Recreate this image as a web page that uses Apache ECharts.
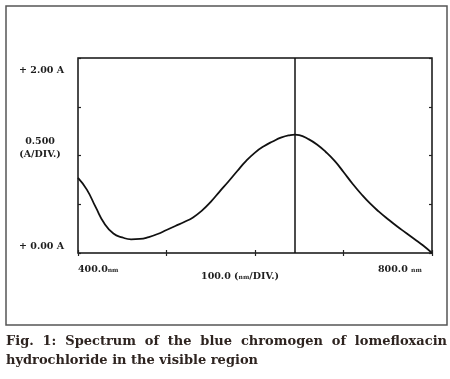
<!DOCTYPE html>
<html>
<head>
<meta charset="utf-8">
<script src="https://cdn.jsdelivr.net/npm/echarts@6/dist/echarts.min.js"></script>
<style>
html,body{margin:0;padding:0;background:#fff;}
#chart{width:450px;height:379px;}
</style>
</head>
<body>
<div id="chart"></div>
<script>
// Wavelength (nm) and absorbance (A)
var wavelengths = [400, 410, 420, 430, 440, 450, 460, 470, 480, 490, 500, 510, 520, 530, 540, 550, 560, 570, 580, 590, 600, 610, 620, 630, 640, 645, 650, 660, 670, 680, 690, 700, 710, 720, 730, 740, 750, 760, 770, 780, 790, 800];
var absorbance  = [0.77, 0.65, 0.47, 0.30, 0.20, 0.16, 0.14, 0.144, 0.164, 0.195, 0.236, 0.277, 0.318, 0.365, 0.435, 0.525, 0.63, 0.733, 0.841, 0.944, 1.03, 1.095, 1.144, 1.185, 1.21, 1.215, 1.21, 1.17, 1.113, 1.036, 0.944, 0.831, 0.713, 0.605, 0.508, 0.425, 0.349, 0.277, 0.21, 0.144, 0.077, 0.0];
var peakWavelength = 645;
var xRange = [400, 800];
var xStep = 100;
var yRange = [0, 2.0];
var yStep = 0.5;
var yLabelsLeft = ['+ 2.00 A', '0.500', '(A/DIV.)', '+ 0.00 A'];
var xLabelLeft = '400.0';
var xLabelMidA = '100.0 (';
var xLabelMidB = '/DIV.)';
var xLabelRight = '800.0 ';
var unitNm = 'nm';
var captionLines = [
  'Fig. 1: Spectrum of the blue chromogen of lomefloxacin',
  'hydrochloride in the visible region'
];

var chart = echarts.init(document.getElementById('chart'), null, {renderer: 'canvas'});

var labelFont = 'bold 9.5px "DejaVu Serif", serif';
var labelColor = '#1e1e1e';
var capFont = 'bold 12px "DejaVu Serif", serif';
var capColor = '#2e2420';

var mc = document.createElement('canvas').getContext('2d');
mc.font = capFont;
function captionGraphics() {
  var out = [];
  var left = 6, right = 447;
  var lastW = mc.measureText(captionLines[captionLines.length - 1]).width;
  var sx = 252 / lastW; // horizontal stretch seen in the reference print
  captionLines.forEach(function (line, li) {
    var y = 348 + li * 19;
    var justify = li < captionLines.length - 1;
    if (!justify) {
      out.push({type: 'text', x: left, y: y, scaleX: sx, silent: true,
        style: {x: 0, y: 0, text: line, font: capFont, fill: capColor, verticalAlign: 'bottom'}});
      return;
    }
    var words = line.split(' ');
    var widths = words.map(function (w) { return mc.measureText(w).width * sx; });
    var total = widths.reduce(function (a, b) { return a + b; }, 0);
    var gap = (right - left - total) / (words.length - 1);
    var x = left;
    words.forEach(function (w, i) {
      out.push({type: 'text', x: x, y: y, scaleX: sx, silent: true,
        style: {x: 0, y: 0, text: w, font: capFont, fill: capColor, verticalAlign: 'bottom'}});
      x += widths[i] + gap;
    });
  });
  return out;
}

var richNm = {nm: {fontSize: 6, fontWeight: 'bold', fontFamily: '"DejaVu Serif", serif', fill: labelColor}};
function lbl(x, y, text, align) {
  return {type: 'text', x: x, y: y, silent: true,
    style: {x: 0, y: 0, text: text, font: labelFont, fill: labelColor, align: align || 'left', verticalAlign: 'middle', rich: richNm}};
}

var tickCommon = {show: true, inside: true, length: 3, lineStyle: {color: '#222', width: 1.2}};
function axisBase(extra) {
  return Object.assign({type: 'value', axisLine: {show: false}, splitLine: {show: false},
    axisLabel: {show: false}, axisTick: tickCommon}, extra);
}

var option = {
  backgroundColor: '#fff',
  animation: false,
  grid: {left: 78, right: 18, top: 58, bottom: 126, show: true, borderColor: '#111', borderWidth: 1.5, backgroundColor: 'transparent'},
  xAxis: [
    axisBase({min: xRange[0], max: xRange[1], interval: xStep, position: 'bottom'}),
    axisBase({min: xRange[0], max: xRange[1], interval: xStep, position: 'top'})
  ],
  yAxis: [
    axisBase({min: yRange[0], max: yRange[1], interval: yStep, position: 'left'}),
    axisBase({min: yRange[0], max: yRange[1], interval: yStep, position: 'right'})
  ],
  series: [{
    type: 'line',
    data: wavelengths.map(function (w, i) { return [w, absorbance[i]]; }),
    smooth: 0.5,
    showSymbol: false,
    lineStyle: {color: '#111', width: 1.8},
    markLine: {
      silent: true, symbol: 'none', label: {show: false},
      lineStyle: {color: '#111', width: 1.5, type: 'solid'},
      data: [{xAxis: peakWavelength}]
    }
  }],
  graphic: [
    {type: 'rect', shape: {x: 6, y: 6, width: 441, height: 319}, silent: true, z: -1,
     style: {fill: 'none', stroke: '#555', lineWidth: 1.5}},
    lbl(19, 71, yLabelsLeft[0]),
    lbl(40, 142, yLabelsLeft[1], 'center'),
    lbl(40, 155, yLabelsLeft[2], 'center'),
    lbl(19, 247, yLabelsLeft[3]),
    lbl(78, 270, xLabelLeft + '{nm|' + unitNm + '}'),
    lbl(240, 277, xLabelMidA + '{nm|' + unitNm + '}' + xLabelMidB, 'center'),
    lbl(378, 270, xLabelRight + '{nm|' + unitNm + '}')
  ].concat(captionGraphics())
};
chart.setOption(option);
</script>
</body>
</html>
